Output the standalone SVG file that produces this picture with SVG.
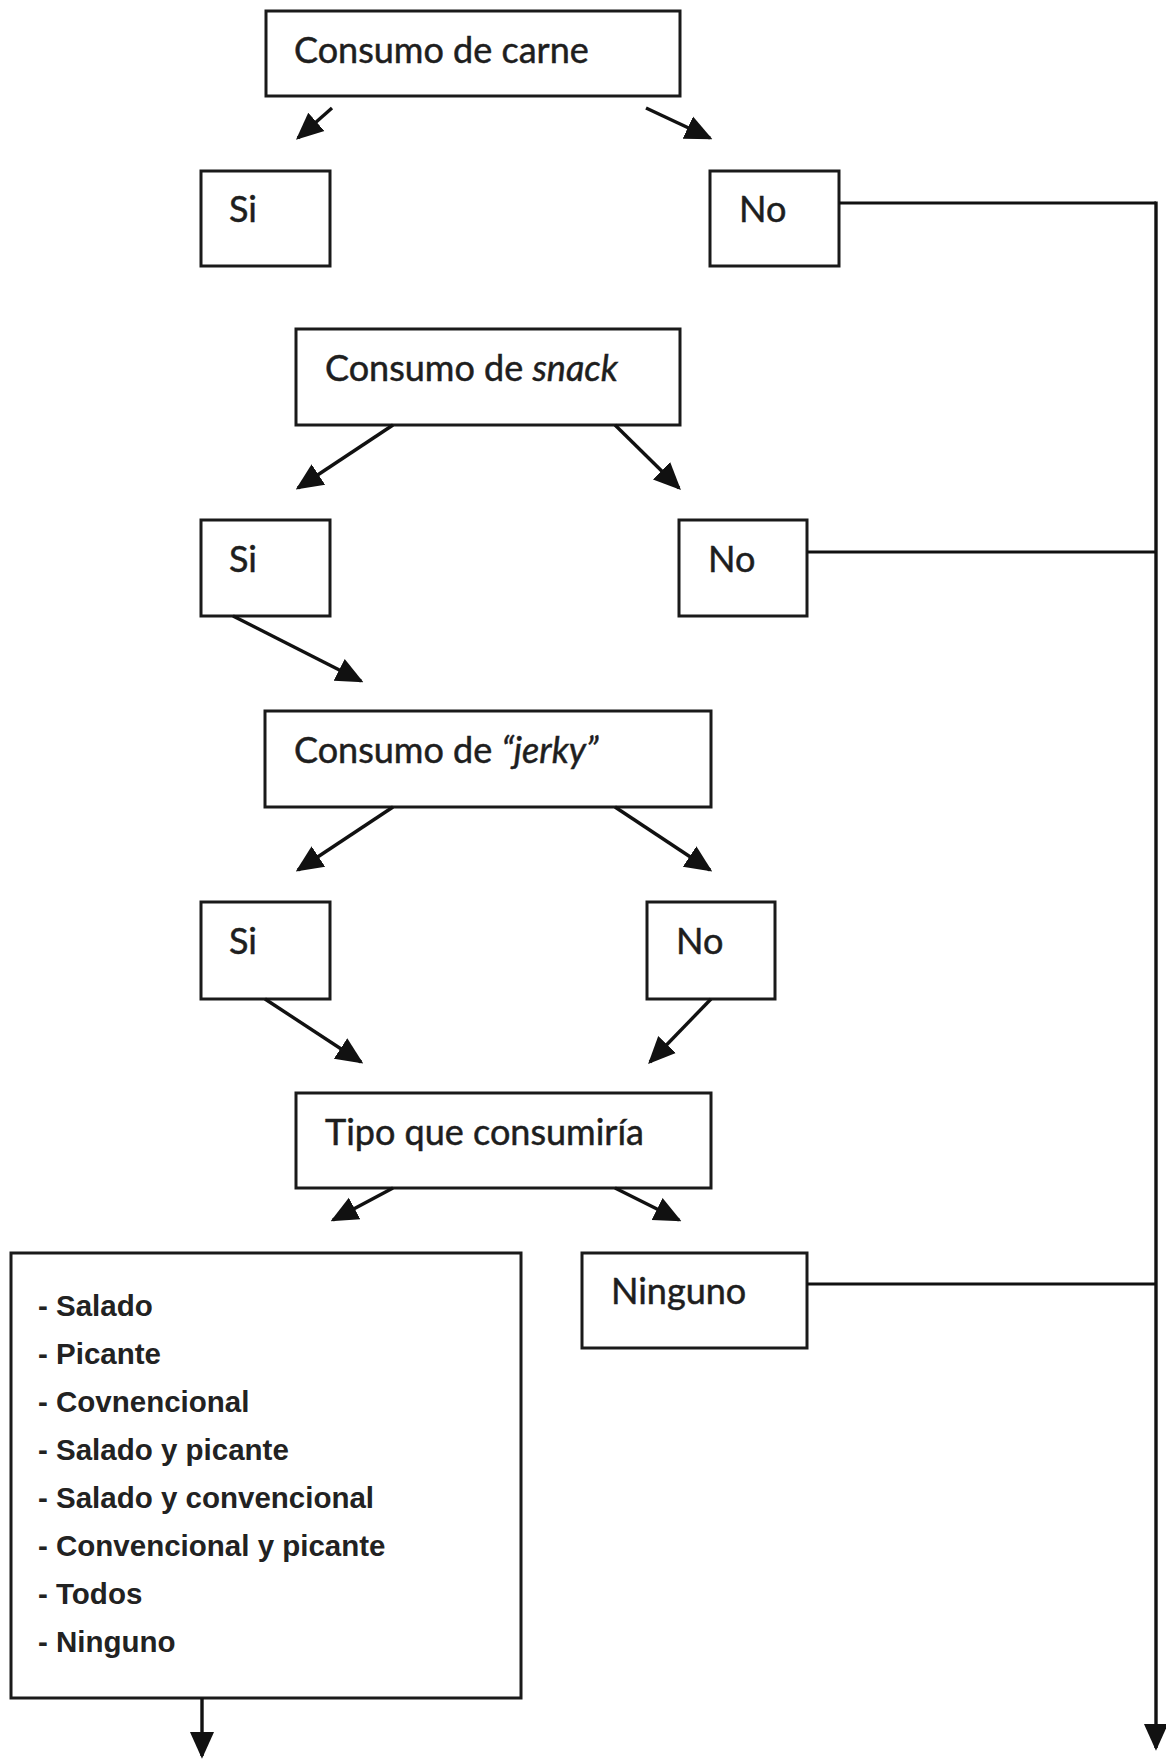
<svg xmlns="http://www.w3.org/2000/svg" width="1166" height="1760" viewBox="0 0 1166 1760">
<style>
.box{fill:#fff;stroke:#1a1a1a;stroke-width:3}
.lbl{font-family:Lato,"Liberation Sans",sans-serif;font-size:36px;fill:#1e1e1e;stroke:#1e1e1e;stroke-width:0.5}
.lst{font-family:"Liberation Sans",Arial,sans-serif;font-weight:bold;font-size:29.5px;fill:#222}
.ln{fill:none;stroke:#111;stroke-width:3.4}
.plain{fill:none;stroke:#111;stroke-width:2.8}
</style>
<defs>
<marker id="ah" viewBox="0 0 10 10" refX="9" refY="5" markerWidth="8" markerHeight="8" markerUnits="strokeWidth" orient="auto">
<path d="M0,0.5 L10,5 L0,9.5 z" fill="#111"/>
</marker>
</defs>
<rect width="1166" height="1760" fill="#fff"/>

<g id="n-carne"><rect class="box" x="266" y="11" width="414" height="85"/><text class="lbl" x="294" y="63">Consumo de carne</text></g>
<g id="n-si1"><rect class="box" x="201" y="171" width="129" height="95"/><text class="lbl" x="229" y="222">Si</text></g>
<g id="n-no1"><rect class="box" x="710" y="171" width="129" height="95"/><text class="lbl" x="739" y="222">No</text></g>

<g id="n-snack"><rect class="box" x="296" y="329" width="384" height="96"/><text class="lbl" x="325" y="381">Consumo de <tspan font-style="italic">snack</tspan></text></g>
<g id="n-si2"><rect class="box" x="201" y="520" width="129" height="96"/><text class="lbl" x="229" y="572">Si</text></g>
<g id="n-no2"><rect class="box" x="679" y="520" width="128" height="96"/><text class="lbl" x="708" y="572">No</text></g>

<g id="n-jerky"><rect class="box" x="265" y="711" width="446" height="96"/><text class="lbl" x="294" y="763">Consumo de <tspan font-style="italic">“jerky”</tspan></text></g>
<g id="n-si3"><rect class="box" x="201" y="902" width="129" height="97"/><text class="lbl" x="229" y="954">Si</text></g>
<g id="n-no3"><rect class="box" x="647" y="902" width="128" height="97"/><text class="lbl" x="676" y="954">No</text></g>

<g id="n-tipo"><rect class="box" x="296" y="1093" width="415" height="95"/><text class="lbl" x="325" y="1145">Tipo que consumiría</text></g>
<g id="n-ninguno"><rect class="box" x="582" y="1253" width="225" height="95"/><text class="lbl" x="611" y="1304">Ninguno</text></g>

<g id="n-lista"><rect class="box" x="11" y="1253" width="510" height="445"/>
<text class="lst" x="38" y="1316">- Salado</text>
<text class="lst" x="38" y="1364">- Picante</text>
<text class="lst" x="38" y="1412">- Covnencional</text>
<text class="lst" x="38" y="1460">- Salado y picante</text>
<text class="lst" x="38" y="1508">- Salado y convencional</text>
<text class="lst" x="38" y="1556">- Convencional y picante</text>
<text class="lst" x="38" y="1604">- Todos</text>
<text class="lst" x="38" y="1652">- Ninguno</text>
</g>

<g id="connectors">
<line class="ln" x1="332" y1="108" x2="298" y2="138" marker-end="url(#ah)"/>
<line class="ln" x1="646" y1="108" x2="710" y2="138" marker-end="url(#ah)"/>
<line class="ln" x1="393" y1="425" x2="298" y2="488" marker-end="url(#ah)"/>
<line class="ln" x1="615" y1="425" x2="679" y2="488" marker-end="url(#ah)"/>
<line class="ln" x1="233" y1="616" x2="361" y2="681" marker-end="url(#ah)"/>
<line class="ln" x1="393" y1="807" x2="298" y2="870" marker-end="url(#ah)"/>
<line class="ln" x1="615" y1="807" x2="710" y2="870" marker-end="url(#ah)"/>
<line class="ln" x1="265" y1="999" x2="361" y2="1062" marker-end="url(#ah)"/>
<line class="ln" x1="711" y1="999" x2="650" y2="1062" marker-end="url(#ah)"/>
<line class="ln" x1="393" y1="1188" x2="333" y2="1220" marker-end="url(#ah)"/>
<line class="ln" x1="615" y1="1188" x2="679" y2="1220" marker-end="url(#ah)"/>
<line class="ln" x1="202" y1="1698" x2="202" y2="1756" marker-end="url(#ah)"/>
<line class="plain" x1="839" y1="203" x2="1156" y2="203"/>
<line class="plain" x1="807" y1="552" x2="1156" y2="552"/>
<line class="plain" x1="807" y1="1284" x2="1156" y2="1284"/>
<line class="ln" x1="1156" y1="201.5" x2="1156" y2="1748" marker-end="url(#ah)"/>
</g>
</svg>
